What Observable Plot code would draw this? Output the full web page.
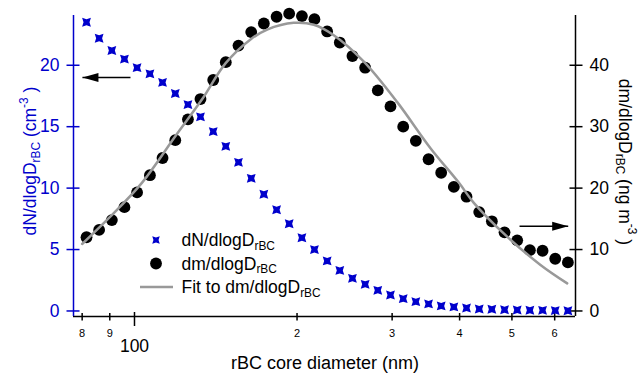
<!DOCTYPE html>
<html><head><meta charset="utf-8">
<script src="https://cdn.jsdelivr.net/npm/d3@7"></script>
<script src="https://cdn.jsdelivr.net/npm/@observablehq/plot@0.6"></script>
<style>
html,body{margin:0;padding:0;background:#fff;}
#chart svg{display:block;}
</style></head><body><div id="chart"></div>
<script>
// rBC core diameter bins (nm)
const diameters = [81.5, 86.0, 90.8, 95.8, 101.1, 106.8, 112.7, 119.0, 125.6, 132.5,
  139.9, 147.6, 155.8, 164.5, 173.6, 183.3, 193.4, 204.2, 215.4, 227.4,
  240.0, 253.3, 267.4, 282.2, 297.9, 314.5, 331.9, 350.4, 369.8, 390.3,
  412.0, 434.9, 459.0, 484.5, 511.4, 539.8, 569.8, 601.4, 634.8];
// dN/dlogD (cm^-3), left axis
const dN = [23.5, 22.2, 21.2, 20.5, 19.8, 19.3, 18.6, 17.7, 16.8, 15.8,
  14.6, 13.4, 12.1, 10.8, 9.5, 8.24, 7.1, 5.96, 5.0, 4.07,
  3.3, 2.66, 2.17, 1.68, 1.3, 1.0, 0.76, 0.57, 0.41, 0.33,
  0.24, 0.16, 0.14, 0.10, 0.08, 0.06, 0.05, 0.03, 0.02];
// dm/dlogD (ng m^-3), right axis
const dm = [12.0, 13.2, 14.8, 16.9, 19.3, 22.1, 24.9, 27.8, 31.2, 34.5,
  37.6, 40.5, 43.2, 45.4, 46.8, 47.9, 48.4, 48.0, 47.5, 45.5,
  43.7, 41.5, 39.6, 35.9, 33.3, 30.0, 27.7, 24.7, 22.5, 20.2,
  18.6, 16.1, 14.6, 12.8, 11.5, 9.9, 9.8, 8.5, 7.9];
// Fit to dm/dlogD
const fitD = [80.0, 89.6, 103.3, 119.1, 133.5, 147.4, 164.0, 176.1, 197.2, 214.8,
  233.9, 265.9, 306.6, 353.3, 398.6, 425.0, 489.9, 564.8, 632.9];
const fitM = [10.9, 15.1, 20.9, 28.5, 34.5, 40.3, 44.2, 45.8, 46.9, 46.6,
  44.9, 40.6, 34.0, 26.5, 20.9, 17.6, 12.1, 7.5, 4.5];

const xMinorTicks = [80, 90, 200, 300, 400, 500, 600];
const xMinorLabels = ["8", "9", "2", "3", "4", "5", "6"];
const xMajorTicks = [100];
const xMajorLabels = ["100"];
const leftTicks = [0, 5, 10, 15, 20];
const rightTicks = [0, 10, 20, 30, 40];

const xDomain = [77.1, 655.7];
const yDomain = [-0.45, 24.05]; // left units; right = 2 x left

const arrows = [
  {x1: 98.3, x2: 80.1, y: 19.0, dir: "left"},
  {x1: 516.5, x2: 635.6, y: 6.9, dir: "right"}
];

const blue = "#0000cc";
const font = "'Liberation Sans', Arial, sans-serif";

const starSym = {draw(ctx) {
  const a = 4.4, b = 3.0;
  ctx.moveTo(-a, -a); ctx.lineTo(0, -b); ctx.lineTo(a, -a); ctx.lineTo(b, 0);
  ctx.lineTo(a, a); ctx.lineTo(0, b); ctx.lineTo(-a, a); ctx.lineTo(-b, 0); ctx.closePath();
}};
const headRight = {draw(ctx) { ctx.moveTo(0, 0); ctx.lineTo(-16, -4.5); ctx.lineTo(-16, 4.5); ctx.closePath(); }};
const headLeft = {draw(ctx) { ctx.moveTo(0, 0); ctx.lineTo(16, -4.5); ctx.lineTo(16, 4.5); ctx.closePath(); }};

const data = diameters.map((d, i) => ({d, n: dN[i], m: dm[i]}));
const fit = fitD.map((d, i) => ({d, m: fitM[i]}));

const chart = Plot.plot({
  width: 638, height: 373,
  marginLeft: 73, marginRight: 63, marginTop: 15, marginBottom: 57,
  style: {fontFamily: font, background: "white", overflow: "visible"},
  x: {type: "log", domain: xDomain},
  y: {domain: yDomain},
  marks: [
    // axis lines
    Plot.ruleY([yDomain[0]], {stroke: "black", strokeWidth: 1.5}),
    Plot.ruleX([xDomain[0]], {stroke: blue, strokeWidth: 1.5}),
    Plot.ruleX([xDomain[1]], {stroke: "black", strokeWidth: 1.5}),
    // x ticks
    Plot.axisX({ticks: xMinorTicks, tickSize: 7.5, dy: -3, strokeWidth: 1.5, tickFormat: () => "", label: null}),
    Plot.axisX({ticks: xMajorTicks, tickSize: 14, dy: -4, strokeWidth: 1.5, tickFormat: () => "", label: null}),
    Plot.axisX({ticks: xMinorTicks, tickSize: 0, tickPadding: 12.5, fontSize: 11, fill: "black",
      tickFormat: (d) => xMinorLabels[xMinorTicks.indexOf(d)], label: null}),
    Plot.axisX({ticks: xMajorTicks, tickSize: 0, tickPadding: 23.5, fontSize: 17.5, fill: "black",
      tickFormat: (d) => xMajorLabels[xMajorTicks.indexOf(d)], label: null}),
    // left y axis (blue)
    Plot.axisY({anchor: "left", ticks: leftTicks, tickSize: 13, dx: 6.5, stroke: blue, strokeWidth: 1.5, tickFormat: () => "", label: null}),
    Plot.axisY({anchor: "left", ticks: leftTicks, tickSize: 0, tickPadding: 14, fill: blue, fontSize: 17.5, label: null}),
    // right y axis (black)
    Plot.axisY({anchor: "right", ticks: rightTicks.map(v => v / 2), tickSize: 13, dx: -6.5, stroke: "black", strokeWidth: 1.5, tickFormat: () => "", label: null}),
    Plot.axisY({anchor: "right", ticks: rightTicks.map(v => v / 2), tickSize: 0, tickPadding: 14, fill: "black", fontSize: 17.5,
      tickFormat: (d) => String(d * 2), label: null}),
    // data
    Plot.dot(data, {x: "d", y: (d) => d.m / 2, r: 5.9, fill: "black", stroke: "none"}),
    Plot.line(fit, {x: "d", y: (d) => d.m / 2, stroke: "#999999", strokeWidth: 2.5, curve: "catmull-rom"}),
    Plot.dot(data, {x: "d", y: "n", symbol: starSym, fill: blue, stroke: "none", r: 4}),
    // arrows
    Plot.link(arrows, {x1: "x1", x2: "x2", y1: "y", y2: "y", stroke: "black", strokeWidth: 1.5}),
    Plot.dot(arrows.filter(a => a.dir === "left"), {x: "x2", y: "y", symbol: headLeft, fill: "black", stroke: "none"}),
    Plot.dot(arrows.filter(a => a.dir === "right"), {x: "x2", y: "y", symbol: headRight, fill: "black", stroke: "none"})
  ]
});
document.getElementById("chart").appendChild(chart);

const svg = d3.select(chart);
function subText(g, parts, color, size) {
  const t = g.append("text").attr("fill", color).attr("font-family", font)
    .attr("font-size", size).attr("text-anchor", "start");
  parts.forEach(p => {
    const ts = t.append("tspan").text(p.t);
    if (p.sub) ts.attr("font-size", size * 0.68).attr("dy", 3.5);
    if (p.sup) ts.attr("font-size", size * 0.68).attr("dy", -8.5);
    if (p.reset) ts.attr("dy", p.reset);
  });
  return t;
}
// axis titles
subText(svg.append("g").attr("transform", "translate(325,369)"),
  [{t: "rBC core diameter (nm)"}], "black", 18).attr("text-anchor", "middle");

subText(svg.append("g").attr("transform", "translate(36,161) rotate(-90)"),
  [{t: "dN/dlogD"}, {t: "rBC", sub: true}, {t: " (cm", reset: -3.5}, {t: "-3", sup: true}, {t: " )", reset: 8.5}], blue, 17.5)
  .attr("text-anchor", "middle");

subText(svg.append("g").attr("transform", "translate(619,162) rotate(90)"),
  [{t: "dm/dlogD"}, {t: "rBC", sub: true}, {t: " (ng m", reset: -3.5}, {t: "-3", sup: true}, {t: " )", reset: 8.5}], "black", 17.5)
  .attr("text-anchor", "middle");

// legend
const lg = svg.append("g");
const rows = [240, 263.5, 287];
lg.append("path").attr("transform", `translate(156,${rows[0]}) scale(0.85)`).attr("fill", blue)
  .attr("d", d3.symbol(starSym)());
lg.append("circle").attr("cx", 156).attr("cy", rows[1]).attr("r", 5.9).attr("fill", "black");
lg.append("line").attr("x1", 140).attr("x2", 173).attr("y1", rows[2]).attr("y2", rows[2])
  .attr("stroke", "#999999").attr("stroke-width", 2.5);
const labels = [
  [{t: "dN/dlogD"}, {t: "rBC", sub: true}],
  [{t: "dm/dlogD"}, {t: "rBC", sub: true}],
  [{t: "Fit to dm/dlogD"}, {t: "rBC", sub: true}]
];
labels.forEach((parts, i) => {
  subText(lg.append("g").attr("transform", `translate(181.5,${rows[i] + 6.2})`), parts, "black", 17.5);
});
</script></body></html>
